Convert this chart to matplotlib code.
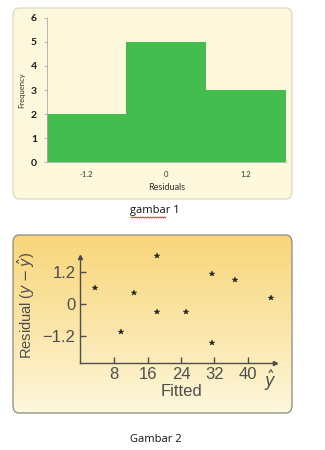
import numpy as np
import matplotlib
matplotlib.use("Agg")
import matplotlib.pyplot as plt
from matplotlib.patches import FancyBboxPatch
from matplotlib import font_manager

# ---- data ----
bin_edges = [-1.8, -0.6, 0.6, 1.8]
frequencies = [2, 5, 3]
hist_xticks = [-1.2, 0, 1.2]
hist_xticklabels = ["-1.2", "0", "1.2"]
hist_yticks = [0, 1, 2, 3, 4, 5, 6]

fitted = [3.4, 9.7, 12.8, 18.3, 18.3, 25.1, 31.5, 31.5, 37.0, 45.6]
residuals = [0.61, -1.03, 0.42, 1.80, -0.31, -0.31, 1.12, -1.47, 0.90, 0.21]
res_xticks = [8, 16, 24, 32, 40]
res_yticks = [1.2, 0, -1.2]
res_yticklabels = ["1.2", "0", "\u22121.2"]

W, H = 325, 450
fig = plt.figure(figsize=(W / 100, H / 100), dpi=100)
fig.patch.set_facecolor("white")

def fx(px):
    return px / W

def fy(py):
    return 1 - py / H

names = {f.name for f in font_manager.fontManager.ttflist}
narrow = [n for n in ["Liberation Sans Narrow", "Liberation Sans", "DejaVu Sans"] if n in names]

# ---------- Panel 1 background ----------
bg1 = FancyBboxPatch((fx(13), fy(199)), fx(279), (199 - 8) / H,
                     boxstyle="round,pad=0,rounding_size=0.018",
                     transform=fig.transFigure, facecolor="#fdf8dc",
                     edgecolor="#d9d4bc", linewidth=0.8, zorder=-3)
fig.patches.append(bg1)

ax1 = fig.add_axes([fx(46.7), fy(162.3), fx(286 - 46.7), (162.3 - 17.7) / H])
ax1.set_facecolor("none")
widths = np.diff(bin_edges)
ax1.bar(bin_edges[:-1], frequencies, width=widths, align="edge",
        color="#45bc50", edgecolor="none")
ax1.set_xlim(bin_edges[0], bin_edges[-1])
ax1.set_ylim(0, 6)
ax1.set_yticks(hist_yticks)
ax1.set_yticklabels([str(v) for v in hist_yticks], fontsize=7.5, fontweight="bold",
                    color="#1a1a1a", family=["Lato", "DejaVu Sans"])
ax1.set_xticks(hist_xticks)
ax1.set_xticklabels(hist_xticklabels, fontsize=5.5, color="#333333",
                    family=["Lato", "DejaVu Sans"])
ax1.tick_params(axis="x", length=0, pad=6)
ax1.tick_params(axis="y", length=2, width=0.5, color="#999999", pad=5)
for s in ["top", "right"]:
    ax1.spines[s].set_visible(False)
ax1.spines["left"].set_color("#aaaaaa")
ax1.spines["left"].set_linewidth(0.6)
ax1.spines["bottom"].set_color("#aaaaaa")
ax1.spines["bottom"].set_linewidth(0.6)
ax1.set_xlabel("Residuals", fontsize=6.5, color="#333333", labelpad=4,
               family=["Lato", "DejaVu Sans"])
ax1.set_ylabel("Frequency", fontsize=5.5, color="#333333", labelpad=4,
               family=["Lato", "DejaVu Sans"])

fig.text(fx(155), fy(211), "gambar 1", ha="center", va="center", fontsize=8,
         color="#111111", family=["Open Sans", "DejaVu Sans"])
# spell-check squiggle under "gambar"
zx = np.linspace(fx(131), fx(166), 30)
zy = fy(217.5) + np.where(np.arange(30) % 2 == 0, 0.6, -0.6) / H
fig.add_artist(plt.Line2D(zx, zy, transform=fig.transFigure, color="#e02020",
                          linewidth=0.6))

# ---------- Panel 2 background (gradient) ----------
bg2 = FancyBboxPatch((fx(13), fy(413)), fx(279), (413 - 235) / H,
                     boxstyle="round,pad=0,rounding_size=0.018",
                     transform=fig.transFigure, facecolor="none",
                     edgecolor="#8a8a80", linewidth=0.9, zorder=2)
axbg = fig.add_axes([0, 0, 1, 1], zorder=-1)
axbg.set_axis_off()
axbg.set_xlim(0, 1)
axbg.set_ylim(0, 1)
tvals = np.linspace(0, 1, 256).reshape(-1, 1)
top = np.array([248, 214, 122]) / 255
bot = np.array([254, 248, 222]) / 255
grad = bot + (top - bot) * (tvals ** 0.9)
grad = np.repeat(grad[:, None, :], 2, axis=1)
im = axbg.imshow(grad, origin="lower", extent=[fx(13), fx(292), fy(413), fy(235)],
                 aspect="auto", interpolation="bilinear")
clip = FancyBboxPatch((fx(13), fy(413)), fx(279), (413 - 235) / H,
                      boxstyle="round,pad=0,rounding_size=0.018",
                      transform=axbg.transData, facecolor="none", edgecolor="none")
axbg.add_patch(clip)
im.set_clip_path(clip)
fig.patches.append(bg2)

x0_px, ppu_x = 80.5, 33.5 / 8
y0_px, ppu_y = 304.0, 32.2 / 1.2
xmin, xmax = -0.2, 46.4
ymin, ymax = -2.19, 1.76
left_px = x0_px + xmin * ppu_x
right_px = x0_px + xmax * ppu_x
bottom_px = y0_px - ymin * ppu_y
top_px = y0_px - ymax * ppu_y
ax2 = fig.add_axes([fx(left_px), fy(bottom_px), fx(right_px - left_px),
                    (bottom_px - top_px) / H])
ax2.set_facecolor("none")
ax2.set_xlim(xmin, xmax)
ax2.set_ylim(ymin, ymax)
ax2.plot(fitted, residuals, linestyle="none", marker="*", markersize=4.2,
         color="#222222", markeredgewidth=0.3, clip_on=False)

gray = "#4d4d4d"
for s in ["top", "right"]:
    ax2.spines[s].set_visible(False)
for s in ["left", "bottom"]:
    ax2.spines[s].set_color(gray)
    ax2.spines[s].set_linewidth(1.0)
ax2.plot([1], [0], marker=">", markersize=3, color=gray,
         transform=ax2.transAxes, clip_on=False)
ax2.plot([0], [1], marker="^", markersize=3, color=gray,
         transform=ax2.transAxes, clip_on=False)
ax2.set_xticks(res_xticks)
ax2.set_xticklabels([str(v) for v in res_xticks], fontsize=12, color=gray,
                    family=narrow)
ax2.set_yticks(res_yticks)
ax2.set_yticklabels(res_yticklabels, fontsize=12, color=gray, family=narrow)
ax2.tick_params(direction="in", length=4.5, width=1.0, color=gray, pad=3)
ax2.text((270 - left_px) / (right_px - left_px), -0.05, r"$\hat{y}$",
         transform=ax2.transAxes, ha="center", va="top", fontsize=12,
         color=gray)
ax2.set_xlabel("Fitted", fontsize=12, color=gray, family=narrow, labelpad=1)
ax2.xaxis.set_label_coords((182 - left_px) / (right_px - left_px), -0.2)
ax2.set_ylabel(r"Residual ($y-\hat{y}$)", fontsize=10.5, color=gray, family=narrow)
ax2.yaxis.set_label_coords((36.7 - left_px) / (right_px - left_px),
                           (bottom_px - 305) / (bottom_px - top_px))

fig.text(fx(156), fy(440), "Gambar 2", ha="center", va="center", fontsize=8,
         color="#111111", family=["Open Sans", "DejaVu Sans"])

fig.savefig("out.png", dpi=100, facecolor="white")
